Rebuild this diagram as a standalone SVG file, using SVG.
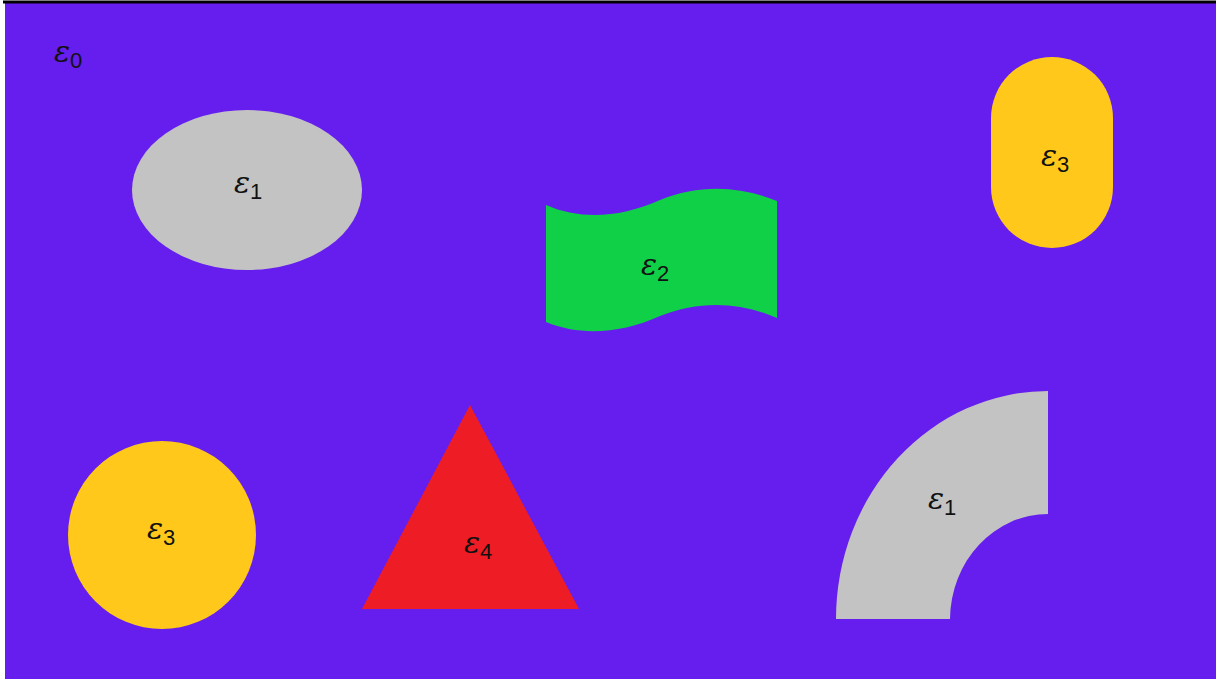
<svg xmlns="http://www.w3.org/2000/svg" width="1221" height="679" viewBox="0 0 1221 679">
<style>
.lbl{font-family:"DejaVu Serif","Liberation Serif",serif;font-size:30px;fill:#111;}
.eps{font-style:italic;}
.sub{font-family:"Liberation Sans",sans-serif;font-size:22px;}
.grey{fill:#C3C3C3;}
.yel{fill:#FFC81A;}
</style>
<rect x="0" y="0" width="1221" height="679" fill="#ffffff"/>
<rect id="bg" x="5" y="3" width="1211" height="676" fill="#661EEE"/>
<line x1="3" y1="2" x2="1216" y2="2" stroke="#000" stroke-width="3"/>
<g id="e0"><text class="lbl" x="54" y="62"><tspan class="eps">ε</tspan><tspan class="sub" dy="6">0</tspan></text></g>
<g id="ellipse1"><ellipse class="grey" cx="247" cy="190" rx="115" ry="80"/>
<text class="lbl" x="234" y="193"><tspan class="eps">ε</tspan><tspan class="sub" dy="6">1</tspan></text></g>
<g id="wave2"><path fill="#10D048" d="M546,205 C580,220 620,218 660,200 C700,184 740,186 777,201 L777,318 C740,302 700,300 660,316 C620,334 580,336 546,322 Z"/>
<text class="lbl" x="641" y="275"><tspan class="eps">ε</tspan><tspan class="sub" dy="6">2</tspan></text></g>
<g id="stadium3"><rect class="yel" x="991" y="57" width="122" height="191" rx="61" ry="61"/>
<text class="lbl" x="1041" y="166"><tspan class="eps">ε</tspan><tspan class="sub" dy="6">3</tspan></text></g>
<g id="circle3"><circle class="yel" cx="162" cy="535" r="94"/>
<text class="lbl" x="147" y="539"><tspan class="eps">ε</tspan><tspan class="sub" dy="6">3</tspan></text></g>
<g id="triangle4"><polygon fill="#EE1C25" points="470,405 579,609 362,609"/>
<text class="lbl" x="464" y="553"><tspan class="eps">ε</tspan><tspan class="sub" dy="6">4</tspan></text></g>
<g id="ring1"><path class="grey" d="M1048,391 L1048,514 A98,106 0 0 0 950,619 L836,619 A212,228 0 0 1 1048,391 Z"/>
<text class="lbl" x="928" y="509"><tspan class="eps">ε</tspan><tspan class="sub" dy="6">1</tspan></text></g>
<g id="connectors"/>
</svg>
